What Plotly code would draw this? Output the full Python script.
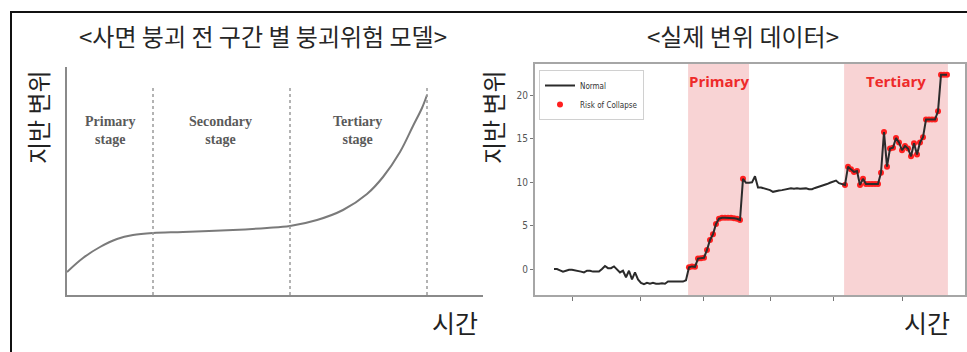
import plotly.graph_objects as go

W, H = 967, 352

# ---------------- data: conceptual creep model (left) ----------------
model_time = [0, 1.6, 3.3, 5.0, 6.6, 8.6, 11.6, 16.6, 20.0, 22.3, 25.0,
              27.6, 30.0, 31.6, 33.3, 34.6, 35.5, 36.0]
model_disp = [2.3, 3.7, 4.8, 5.6, 6.0, 6.2, 6.3, 6.5, 6.7, 6.9, 7.5,
              8.5, 10.1, 11.8, 14.3, 16.9, 18.7, 20.0]
stage_bounds = [8.6, 22.3, 36.0]
stage_names = ["Primary<br>stage", "Secondary<br>stage", "Tertiary<br>stage"]
stage_label_time = [4.3, 15.3, 29.0]

# ---------------- data: measured displacement (right) ----------------
disp = [
    0.0, 0.0, -0.15, -0.3, -0.2, -0.1, -0.1, -0.15, -0.2, -0.3,
    -0.4, -0.2, -0.2, -0.3, -0.3, -0.3, 0.0, 0.35, 0.1, 0.1,
    0.3, 0.0, -0.4, -0.2, -0.95, -0.2, -1.2, -0.4, -1.2, -1.6,
    -1.75, -1.6, -1.7, -1.6, -1.7, -1.7, -1.65, -1.7, -1.45, -1.45,
    -1.45, -1.45, -1.45, -1.45, -1.3, 0.2, 0.3, 0.25, 1.2, 1.25,
    1.3, 2.2, 3.35, 4.0, 5.2, 5.8, 5.9, 5.9, 5.9, 5.9,
    5.85, 5.8, 5.65, 10.4, 9.95, 9.95, 10.0, 10.7, 9.4, 9.4,
    9.3, 9.2, 9.1, 8.9, 9.0, 9.05, 9.1, 9.15, 9.2, 9.3,
    9.25, 9.3, 9.25, 9.3, 9.3, 9.2, 9.2, 9.35, 9.45, 9.55,
    9.65, 9.8, 9.95, 10.1, 10.2, 9.9, 9.8, 9.7, 11.8, 11.5,
    11.2, 11.3, 9.7, 10.4, 9.8, 9.8, 9.8, 9.8, 9.8, 11.1,
    15.8, 11.8, 13.9, 14.0, 15.1, 14.6, 13.7, 14.2, 13.9, 13.0,
    14.5, 13.2, 14.6, 15.2, 17.25, 17.25, 17.25, 17.25, 18.2, 22.4,
    22.4, 22.4,
]
time_idx = list(range(len(disp)))
risk_ranges = [(45, 63), (97, 131)]
shade_spans = [(44.7, 65.0), (96.7, 131.3)]
shade_names = ["Primary", "Tertiary"]
shade_label_time = [55, 114]
y_ticks = [0, 5, 10, 15, 20]
x_ticks = [6.3, 28.7, 49.7, 72.0, 93.3, 116.0]

risk_t = [t for t in time_idx if any(a <= t <= b for a, b in risk_ranges)]
risk_v = [disp[t] for t in risk_t]


def px(x):
    return x / W


def py(y):
    return (H - y) / H


KR = "Noto Sans CJK KR"
SERIF = "Liberation Serif, DejaVu Serif, serif"
NARROW = "Liberation Sans Narrow, DejaVu Sans Condensed, Arial Narrow, sans-serif"

fig = go.Figure()

# left: smooth creep curve
fig.add_trace(go.Scatter(
    x=model_time, y=model_disp, mode="lines",
    line=dict(color="#7a7a7a", width=2, shape="spline", smoothing=1.0),
    xaxis="x", yaxis="y", showlegend=False, hoverinfo="skip"))

# right: risk markers under the measured line
fig.add_trace(go.Scatter(
    x=risk_t, y=risk_v, mode="markers", name="Risk of Collapse",
    marker=dict(color="#ff1f1f", size=6),
    xaxis="x2", yaxis="y2", legendrank=2))
fig.add_trace(go.Scatter(
    x=time_idx, y=disp, mode="lines", name="Normal",
    line=dict(color="#2b2b2b", width=2),
    xaxis="x2", yaxis="y2", legendrank=1))

shapes = []
# stage boundaries on the model
for b in stage_bounds:
    shapes.append(dict(type="line", xref="x", yref="y", x0=b, x1=b, y0=0, y1=20.8,
                       line=dict(color="#9a9a9a", width=1.5, dash="dot")))
# risk stage shading
for a, b in shade_spans:
    shapes.append(dict(type="rect", xref="x2", yref="y2 domain", x0=a, x1=b, y0=0, y1=1,
                       fillcolor="#f8d3d4", line=dict(width=0), layer="below"))
# outer frame
shapes.append(dict(type="rect", xref="paper", yref="paper",
                   x0=px(11), x1=1.02, y0=-0.05, y1=py(12),
                   line=dict(color="#111", width=2)))

annotations = []
for name, t in zip(stage_names, stage_label_time):
    annotations.append(dict(x=t, y=16.5, xref="x", yref="y", text="<b>" + name + "</b>",
                            showarrow=False, font=dict(family=SERIF, size=14, color="#5a5a5a")))
for name, t in zip(shade_names, shade_label_time):
    annotations.append(dict(x=t, y=21.7, xref="x2", yref="y2", text="<b>" + name + "</b>",
                            showarrow=False, font=dict(family="Open Sans, sans-serif", size=15,
                                                       color="#ee2a2a")))

titles = [("<사면 붕괴 전 구간 별 붕괴위험 모델>", 263), ("<실제 변위 데이터>", 743)]
for text, xc in titles:
    annotations.append(dict(x=px(xc), y=py(35), xref="paper", yref="paper",
                            text=text.replace("<", "&lt;").replace(">", "&gt;"),
                            showarrow=False, xanchor="center", yanchor="middle",
                            font=dict(family=KR, size=24, color="#262626")))
for xc in (37, 492):
    annotations.append(dict(x=px(xc), y=py(117), xref="paper", yref="paper", text="지반 변위",
                            textangle=-90, showarrow=False, xanchor="center", yanchor="middle",
                            font=dict(family=KR, size=24, color="#222")))
for xc in (455, 927):
    annotations.append(dict(x=px(xc), y=py(322), xref="paper", yref="paper", text="시간",
                            showarrow=False, xanchor="center", yanchor="middle",
                            font=dict(family=KR, size=25, color="#222")))

fig.update_layout(
    width=W, height=H, margin=dict(l=0, r=0, t=0, b=0),
    paper_bgcolor="white", plot_bgcolor="white",
    xaxis=dict(domain=[px(67), px(483)], range=[0, 41.6], showline=True,
               linecolor="#8a8a8a", linewidth=2, showgrid=False, zeroline=False,
               showticklabels=False, ticks=""),
    yaxis=dict(domain=[py(295), py(67)], range=[0, 22.8], showline=True,
               linecolor="#8a8a8a", linewidth=2, showgrid=False, zeroline=False,
               showticklabels=False, ticks=""),
    xaxis2=dict(domain=[px(535), px(965)], range=[-6.33, 137], anchor="y2",
                showline=True, mirror=True, linecolor="#a6a6a6", linewidth=2,
                showgrid=False, zeroline=False, tickvals=x_ticks, ticks="outside",
                ticklen=4, tickcolor="#777", showticklabels=False),
    yaxis2=dict(domain=[py(295), py(64)], range=[-3.0, 23.65], anchor="x2",
                showline=True, mirror=True, linecolor="#a6a6a6", linewidth=2,
                showgrid=False, zeroline=False, tickvals=y_ticks, ticks="outside",
                ticklen=3, tickcolor="#777",
                tickfont=dict(family=NARROW, size=10, color="#555")),
    legend=dict(x=px(539), y=py(70), xanchor="left", yanchor="top",
                bgcolor="white", bordercolor="#d0d0d0", borderwidth=1,
                font=dict(family=NARROW, size=8, color="#333"),
                itemwidth=30, tracegroupgap=0),
    shapes=shapes, annotations=annotations,
)

fig.write_html("out.html")
